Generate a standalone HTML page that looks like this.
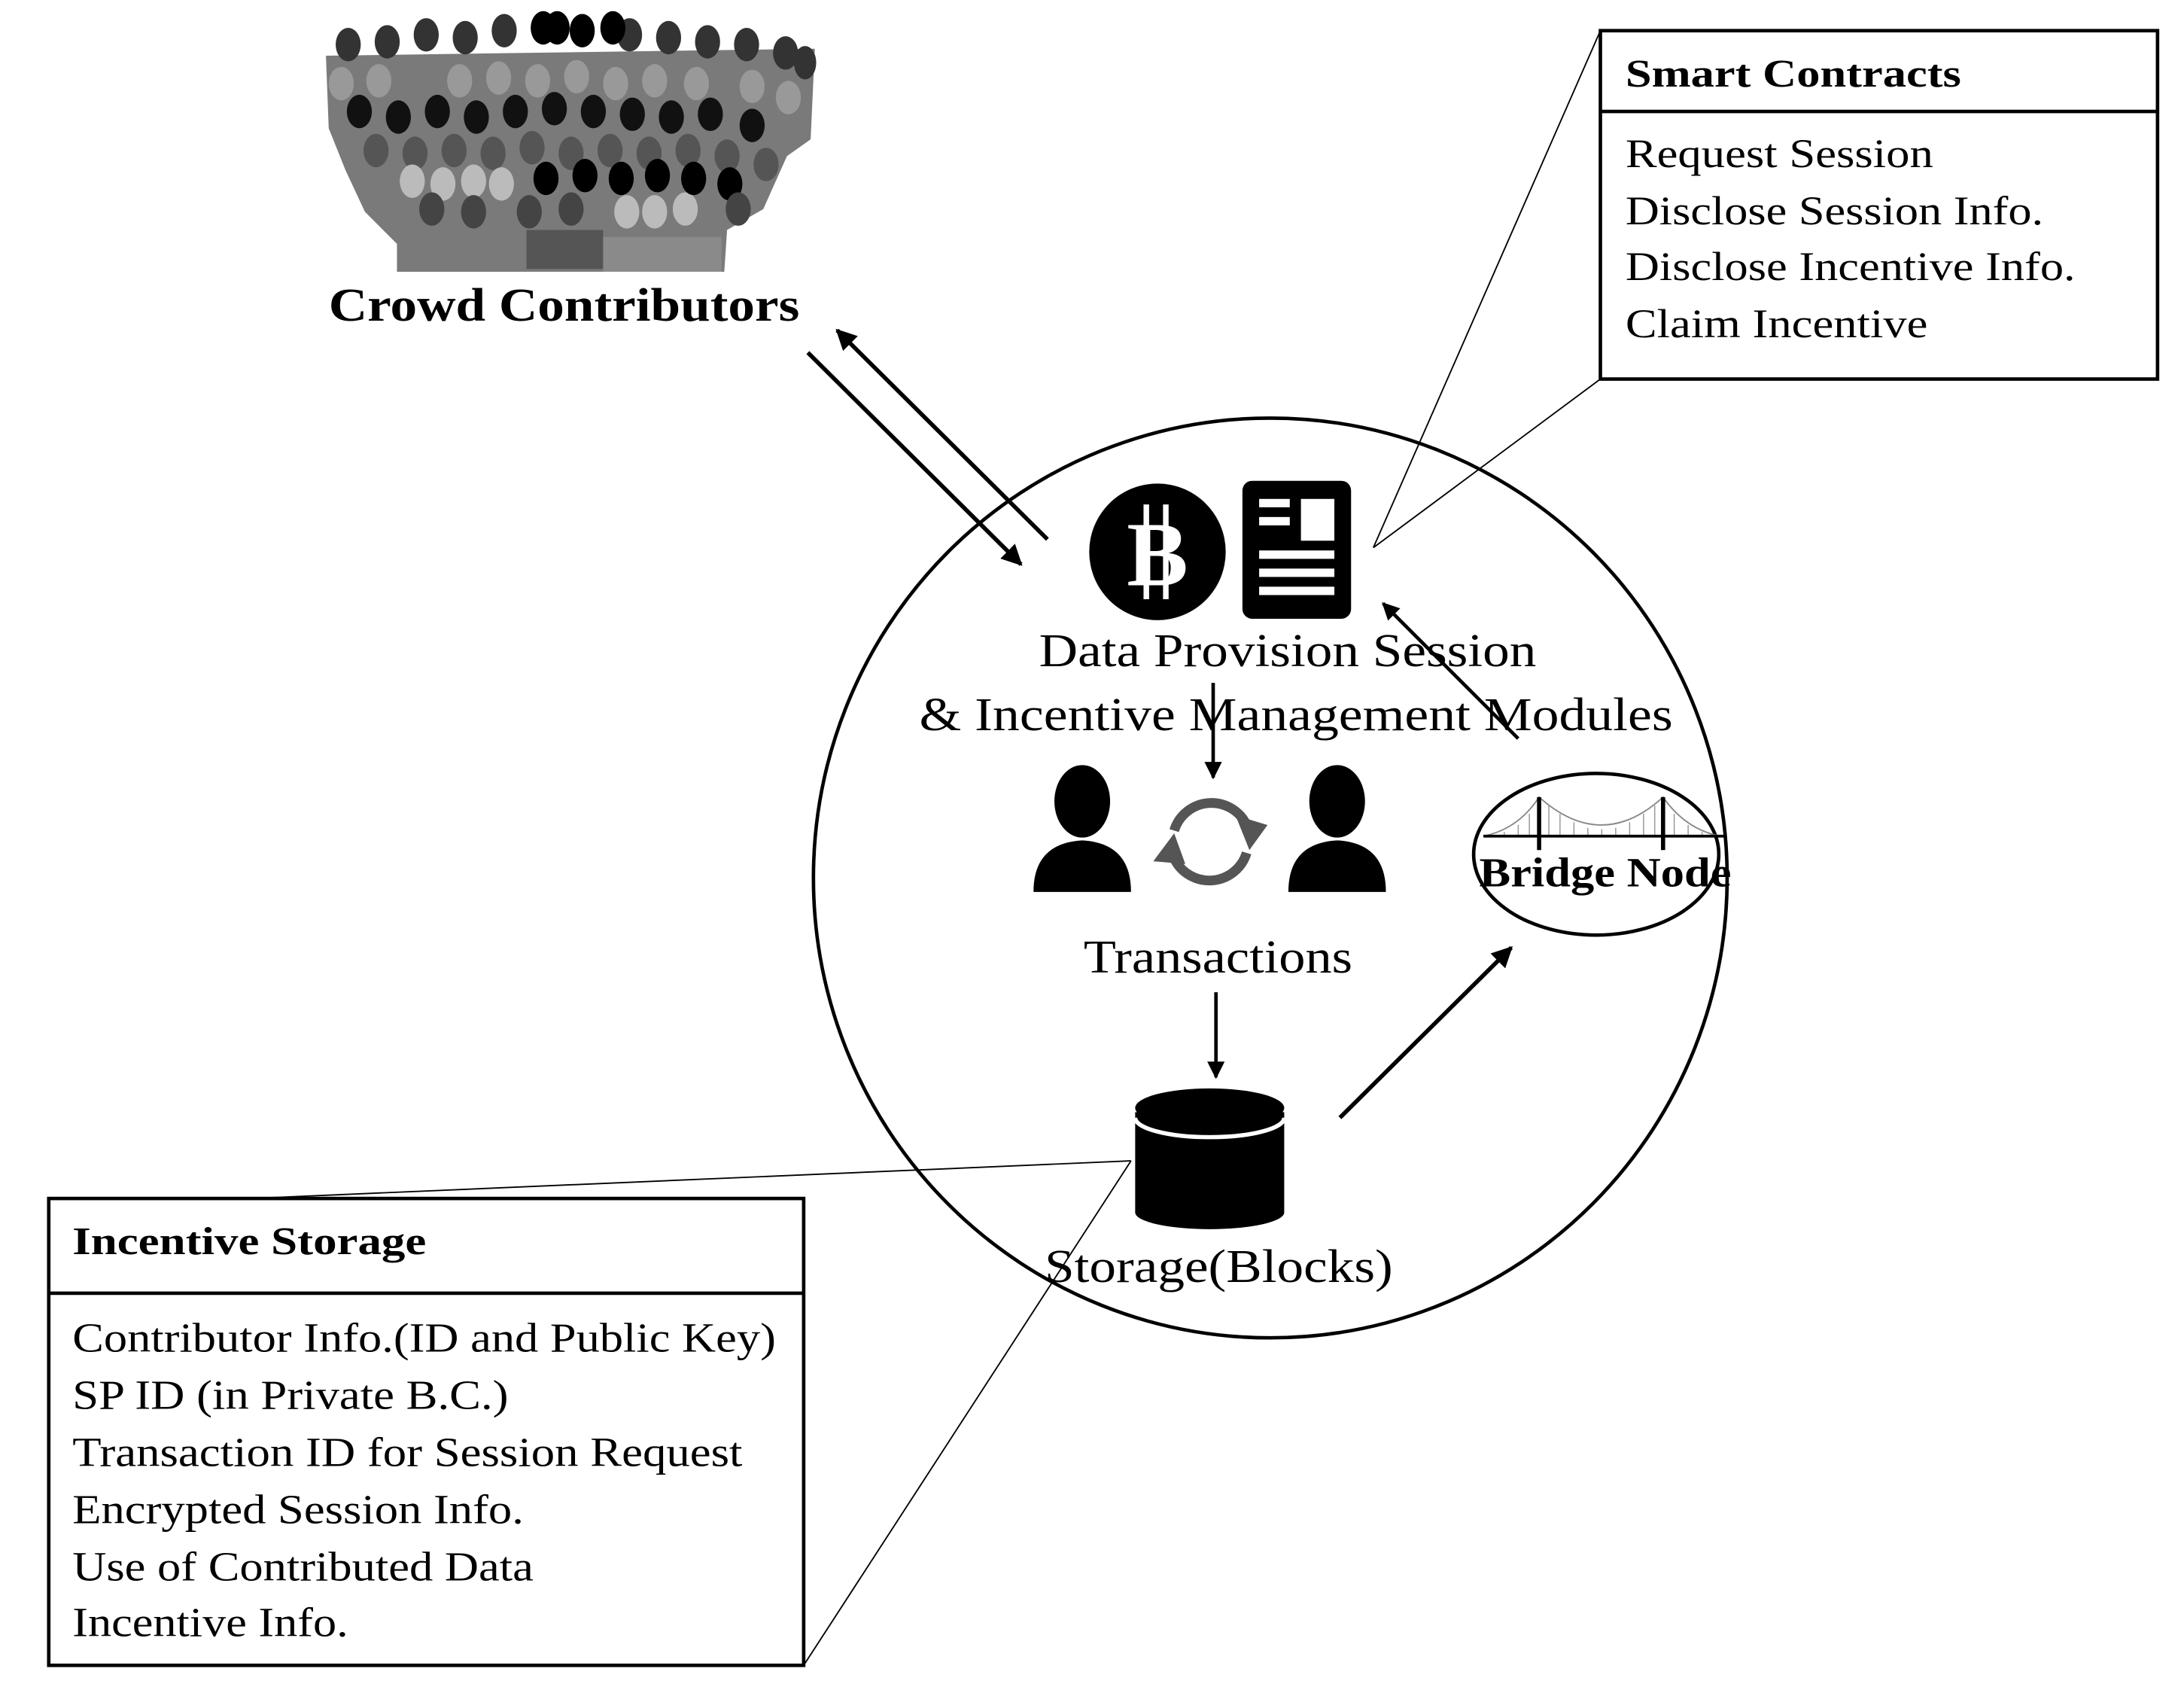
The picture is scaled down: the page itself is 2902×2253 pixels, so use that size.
<!DOCTYPE html>
<html><head><meta charset="utf-8"><style>html,body{margin:0;padding:0;background:#fff}svg{display:block}text{font-family:"Liberation Serif",serif}</style></head>
<body>
<svg width="2902" height="2253" viewBox="0 0 1568 1217" preserveAspectRatio="none" xmlns="http://www.w3.org/2000/svg">
<defs><marker id="ah" viewBox="0 0 10 10" refX="9" refY="5" markerWidth="5" markerHeight="5" orient="auto"><path d="M0,0 L10,5 L0,10 z" fill="#000"/></marker></defs>
<!-- crowd -->
<polygon points="234,40 585,35 582,100 565,112 548,150 522,165 520,195 285,195 285,175 262,152 248,122 236,92" fill="#7a7a7a"/>
<g fill="#333"><ellipse cx="250" cy="32" rx="9" ry="12"/><ellipse cx="278" cy="30" rx="9" ry="12"/><ellipse cx="306" cy="25" rx="9" ry="12"/><ellipse cx="334" cy="27" rx="9" ry="12"/><ellipse cx="362" cy="22" rx="9" ry="12"/><ellipse cx="452" cy="25" rx="9" ry="12"/><ellipse cx="480" cy="27" rx="9" ry="12"/><ellipse cx="508" cy="30" rx="9" ry="12"/><ellipse cx="536" cy="32" rx="9" ry="12"/><ellipse cx="564" cy="38" rx="9" ry="12"/><ellipse cx="578" cy="45" rx="8" ry="12"/></g>
<g fill="#000"><ellipse cx="390" cy="20" rx="9" ry="12"/><ellipse cx="418" cy="22" rx="9" ry="12"/><ellipse cx="440" cy="20" rx="9" ry="12"/><ellipse cx="400" cy="20" rx="9" ry="12"/></g>
<g fill="#999"><ellipse cx="245" cy="60" rx="9" ry="12"/><ellipse cx="272" cy="58" rx="9" ry="12"/><ellipse cx="330" cy="58" rx="9" ry="12"/><ellipse cx="358" cy="56" rx="9" ry="12"/><ellipse cx="386" cy="58" rx="9" ry="12"/><ellipse cx="414" cy="55" rx="9" ry="12"/><ellipse cx="442" cy="60" rx="9" ry="12"/><ellipse cx="470" cy="58" rx="9" ry="12"/><ellipse cx="500" cy="60" rx="9" ry="12"/><ellipse cx="540" cy="62" rx="9" ry="12"/><ellipse cx="566" cy="70" rx="9" ry="12"/></g>
<g fill="#111"><ellipse cx="258" cy="80" rx="9" ry="12"/><ellipse cx="286" cy="84" rx="9" ry="12"/><ellipse cx="314" cy="80" rx="9" ry="12"/><ellipse cx="342" cy="84" rx="9" ry="12"/><ellipse cx="370" cy="80" rx="9" ry="12"/><ellipse cx="398" cy="78" rx="9" ry="12"/><ellipse cx="426" cy="80" rx="9" ry="12"/><ellipse cx="454" cy="82" rx="9" ry="12"/><ellipse cx="482" cy="84" rx="9" ry="12"/><ellipse cx="510" cy="82" rx="9" ry="12"/><ellipse cx="540" cy="90" rx="9" ry="12"/></g>
<g fill="#555"><ellipse cx="270" cy="108" rx="9" ry="12"/><ellipse cx="298" cy="110" rx="9" ry="12"/><ellipse cx="326" cy="108" rx="9" ry="12"/><ellipse cx="354" cy="110" rx="9" ry="12"/><ellipse cx="382" cy="106" rx="9" ry="12"/><ellipse cx="410" cy="110" rx="9" ry="12"/><ellipse cx="438" cy="108" rx="9" ry="12"/><ellipse cx="466" cy="110" rx="9" ry="12"/><ellipse cx="494" cy="108" rx="9" ry="12"/><ellipse cx="522" cy="112" rx="9" ry="12"/><ellipse cx="550" cy="118" rx="9" ry="12"/></g>
<g fill="#bbb"><ellipse cx="296" cy="130" rx="9" ry="12"/><ellipse cx="318" cy="132" rx="9" ry="12"/><ellipse cx="340" cy="130" rx="9" ry="12"/><ellipse cx="360" cy="132" rx="9" ry="12"/><ellipse cx="470" cy="152" rx="9" ry="12"/><ellipse cx="492" cy="150" rx="9" ry="12"/><ellipse cx="450" cy="152" rx="9" ry="12"/></g>
<g fill="#000"><ellipse cx="392" cy="128" rx="9" ry="12"/><ellipse cx="420" cy="126" rx="9" ry="12"/><ellipse cx="446" cy="128" rx="9" ry="12"/><ellipse cx="472" cy="126" rx="9" ry="12"/><ellipse cx="498" cy="128" rx="9" ry="12"/><ellipse cx="524" cy="132" rx="9" ry="12"/></g>
<g fill="#444"><ellipse cx="310" cy="150" rx="9" ry="12"/><ellipse cx="340" cy="152" rx="9" ry="12"/><ellipse cx="380" cy="152" rx="9" ry="12"/><ellipse cx="410" cy="150" rx="9" ry="12"/><ellipse cx="530" cy="150" rx="9" ry="12"/></g>
<rect x="378" y="165" width="55" height="28" fill="#555"/>
<rect x="433" y="170" width="85" height="25" fill="#8a8a8a"/>
<text x="236" y="230" font-size="34" font-weight="bold" textLength="338" lengthAdjust="spacingAndGlyphs">Crowd Contributors</text>
<!-- arrows crowd -->
<line x1="580" y1="253" x2="733" y2="405" stroke="#000" stroke-width="3" marker-end="url(#ah)"/>
<line x1="752" y1="387" x2="601" y2="237" stroke="#000" stroke-width="3" marker-end="url(#ah)"/>
<!-- smart contracts -->
<rect x="1149" y="22" width="400" height="250" fill="#fff" stroke="#000" stroke-width="2.5"/>
<line x1="1149" y1="80" x2="1549" y2="80" stroke="#000" stroke-width="2.5"/>
<text x="1167" y="62" font-size="28" font-weight="bold" textLength="241" lengthAdjust="spacingAndGlyphs">Smart Contracts</text>
<g font-size="29"><text x="1167" y="120" textLength="221" lengthAdjust="spacingAndGlyphs">Request Session</text><text x="1167" y="161" textLength="300" lengthAdjust="spacingAndGlyphs">Disclose Session Info.</text><text x="1167" y="201" textLength="323" lengthAdjust="spacingAndGlyphs">Disclose Incentive Info.</text><text x="1167" y="242" textLength="217" lengthAdjust="spacingAndGlyphs">Claim Incentive</text></g>
<line x1="1149" y1="22" x2="986" y2="393" stroke="#000" stroke-width="1"/>
<line x1="1149" y1="272" x2="986" y2="393" stroke="#000" stroke-width="1"/>
<!-- big circle -->
<ellipse cx="912" cy="630" rx="328" ry="330" fill="none" stroke="#000" stroke-width="2.5"/>
<circle cx="831" cy="396" r="49" fill="#000"/>
<text x="831" y="420" font-size="66" font-weight="bold" fill="#fff" text-anchor="middle" font-family="Liberation Sans,sans-serif">B</text>
<line x1="823" y1="362" x2="823" y2="430" stroke="#fff" stroke-width="4"/><line x1="837" y1="362" x2="837" y2="430" stroke="#fff" stroke-width="4"/>
<rect x="892" y="345" width="78" height="99" rx="7" fill="#000"/>
<g fill="#fff"><rect x="904" y="358" width="22" height="6"/><rect x="904" y="371" width="22" height="6"/><rect x="934" y="358" width="24" height="30"/><rect x="904" y="395" width="54" height="6"/><rect x="904" y="408" width="54" height="6"/><rect x="904" y="421" width="54" height="6"/></g>
<text x="746" y="478" font-size="34" textLength="357" lengthAdjust="spacingAndGlyphs">Data Provision Session</text>
<text x="660" y="524" font-size="34" textLength="541" lengthAdjust="spacingAndGlyphs">&amp; Incentive Management Modules</text>
<line x1="871" y1="490" x2="871" y2="558" stroke="#000" stroke-width="2.5" marker-end="url(#ah)"/>
<!-- persons -->
<g fill="#000"><ellipse cx="777" cy="575" rx="20" ry="26"/><path d="M742,640 Q742,605 777,603 Q812,605 812,640 Z"/><ellipse cx="960" cy="575" rx="20" ry="26"/><path d="M925,640 Q925,605 960,603 Q995,605 995,640 Z"/></g>
<g fill="none" stroke="#555" stroke-width="7"><path d="M843,596 A28,28 0 0 1 895,592"/><path d="M895,612 A28,28 0 0 1 843,616"/></g>
<polygon points="887,585 910,592 897,610" fill="#555"/><polygon points="828,618 851,620 843,598" fill="#555"/>
<text x="778" y="698" font-size="34" textLength="193" lengthAdjust="spacingAndGlyphs">Transactions</text>
<line x1="873" y1="712" x2="873" y2="773" stroke="#000" stroke-width="2.5" marker-end="url(#ah)"/>
<!-- cylinder -->
<path d="M815,798 L815,870 A53.5,12 0 0 0 922,870 L922,798 Z" fill="#000"/>
<ellipse cx="868.5" cy="795" rx="53.5" ry="14" fill="#000"/>
<path d="M815,802 A53.5,14 0 0 0 922,802" fill="none" stroke="#fff" stroke-width="3"/>
<text x="750" y="920" font-size="34" textLength="250" lengthAdjust="spacingAndGlyphs">Storage(Blocks)</text>
<line x1="962" y1="802" x2="1085" y2="680" stroke="#000" stroke-width="3" marker-end="url(#ah)"/>
<line x1="1090" y1="530" x2="993" y2="433" stroke="#000" stroke-width="2.5" marker-end="url(#ah)"/>
<!-- bridge -->
<ellipse cx="1146" cy="613" rx="88" ry="58" fill="none" stroke="#000" stroke-width="2.5"/>
<path d="M1065,600 Q1090,595 1105,572 Q1150,612 1194,572 Q1210,595 1235,600" fill="none" stroke="#888" stroke-width="1"/>
<g stroke="#999" stroke-width="0.8"><line x1="1080" y1="597" x2="1080" y2="600"/><line x1="1090" y1="592" x2="1090" y2="600"/><line x1="1098" y1="584" x2="1098" y2="600"/><line x1="1112" y1="578" x2="1112" y2="600"/><line x1="1120" y1="584" x2="1120" y2="600"/><line x1="1130" y1="590" x2="1130" y2="600"/><line x1="1140" y1="594" x2="1140" y2="600"/><line x1="1150" y1="595" x2="1150" y2="600"/><line x1="1160" y1="594" x2="1160" y2="600"/><line x1="1170" y1="590" x2="1170" y2="600"/><line x1="1180" y1="584" x2="1180" y2="600"/><line x1="1188" y1="578" x2="1188" y2="600"/><line x1="1202" y1="584" x2="1202" y2="600"/><line x1="1212" y1="592" x2="1212" y2="600"/><line x1="1222" y1="597" x2="1222" y2="600"/></g>
<line x1="1065" y1="600" x2="1238" y2="600" stroke="#000" stroke-width="2"/>
<line x1="1105" y1="572" x2="1105" y2="610" stroke="#000" stroke-width="3"/>
<line x1="1194" y1="572" x2="1194" y2="610" stroke="#000" stroke-width="3"/>
<text x="1062" y="636" font-size="30" font-weight="bold" textLength="181" lengthAdjust="spacingAndGlyphs">Bridge Node</text>
<!-- incentive storage -->
<line x1="180" y1="860" x2="812" y2="833" stroke="#000" stroke-width="1"/>
<rect x="35" y="860" width="542" height="335" fill="#fff" stroke="#000" stroke-width="2.5"/>
<line x1="35" y1="928" x2="577" y2="928" stroke="#000" stroke-width="2.5"/>
<line x1="577" y1="1195" x2="812" y2="833" stroke="#000" stroke-width="1"/>
<text x="52" y="900" font-size="28" font-weight="bold" textLength="254" lengthAdjust="spacingAndGlyphs">Incentive Storage</text>
<g font-size="30"><text x="52" y="970" textLength="505" lengthAdjust="spacingAndGlyphs">Contributor Info.(ID and Public Key)</text><text x="52" y="1011" textLength="313" lengthAdjust="spacingAndGlyphs">SP ID (in Private B.C.)</text><text x="52" y="1052" textLength="481" lengthAdjust="spacingAndGlyphs">Transaction ID for Session Request</text><text x="52" y="1093" textLength="324" lengthAdjust="spacingAndGlyphs">Encrypted Session Info.</text><text x="52" y="1134" textLength="331" lengthAdjust="spacingAndGlyphs">Use of Contributed Data</text><text x="52" y="1174" textLength="198" lengthAdjust="spacingAndGlyphs">Incentive Info.</text></g>
</svg>
</body></html>
